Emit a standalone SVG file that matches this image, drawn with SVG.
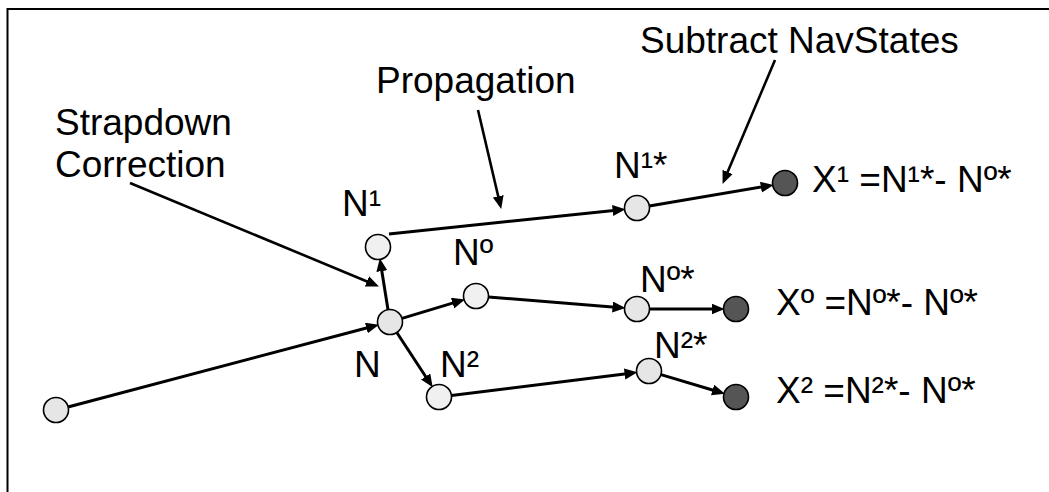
<svg xmlns="http://www.w3.org/2000/svg" width="1049" height="492" viewBox="0 0 1049 492">
<defs>
<style>
.t{font-family:"Liberation Sans",Arial,sans-serif;font-size:37px;fill:#000}
.n{fill:#e6e6e6;stroke:#000;stroke-width:1.6}
.d{fill:#555;stroke:#000;stroke-width:1.6}
.e{stroke:#000;stroke-width:3;fill:none}
.c{stroke:#000;stroke-width:2.6;fill:none}
</style>
<marker id="ah" markerUnits="userSpaceOnUse" markerWidth="14" markerHeight="12" refX="6" refY="5.5" orient="auto" viewBox="0 0 14 12">
<path d="M0,0 L13,5.5 L0,11 z" fill="#000"/>
</marker>
</defs>
<rect width="1049" height="492" fill="#fff"/>
<path d="M7.5,492 V9 H1049" fill="none" stroke="#000" stroke-width="2"/>
<g id="connectors">
<line class="e" x1="68" y1="407" x2="372.2" y2="326.5" marker-end="url(#ah)"/>
<line class="e" x1="388" y1="309.7" x2="380.9" y2="265.2" marker-end="url(#ah)"/>
<line class="e" x1="402" y1="318.4" x2="458.3" y2="301.4" marker-end="url(#ah)"/>
<line class="e" x1="396.8" y1="332.5" x2="428.9" y2="381.5" marker-end="url(#ah)"/>
<line class="e" x1="389" y1="234" x2="618.6" y2="209.9" marker-end="url(#ah)"/>
<line class="e" x1="649.3" y1="205.9" x2="766.8" y2="186.1" marker-end="url(#ah)"/>
<line class="e" x1="488.5" y1="297" x2="618.5" y2="307.5" marker-end="url(#ah)"/>
<line class="e" x1="649.5" y1="309" x2="717.5" y2="309" marker-end="url(#ah)"/>
<line class="e" x1="451.4" y1="395.5" x2="630.6" y2="373.2" marker-end="url(#ah)"/>
<line class="e" x1="661" y1="374.6" x2="718.3" y2="391.7" marker-end="url(#ah)"/>
<line class="c" x1="130" y1="183" x2="372.5" y2="283.7" marker-end="url(#ah)"/>
<line class="c" x1="478" y1="110" x2="499.6" y2="202.2" marker-end="url(#ah)"/>
<line class="c" x1="775" y1="60" x2="725.3" y2="177.5" marker-end="url(#ah)"/>
</g>
<g id="labels">
<text class="t" x="55" y="135">Strapdown</text>
<text class="t" x="55" y="177">Correction</text>
<text class="t" x="376" y="93">Propagation</text>
<text class="t" x="640" y="53">Subtract NavStates</text>
</g>
<g id="node-start"><circle class="n" cx="56" cy="410" r="12.5"/></g>
<g id="node-N"><circle class="n" cx="390" cy="322" r="12.5"/><text class="t" x="354" y="377">N</text></g>
<g id="node-N1"><circle class="n" cx="378" cy="247" r="12.5" style="fill:#f0f0f0"/><text class="t" x="342" y="216">N¹</text></g>
<g id="node-N0"><circle class="n" cx="476" cy="296" r="12.5" style="fill:#f0f0f0"/><text class="t" x="453" y="265">Nº</text></g>
<g id="node-N2"><circle class="n" cx="439" cy="397" r="12.5" style="fill:#f0f0f0"/><text class="t" x="440" y="377">N²</text></g>
<g id="node-N1s"><circle class="n" cx="637" cy="208" r="12.5"/><text class="t" x="614" y="178">N¹*</text></g>
<g id="node-N0s"><circle class="n" cx="637" cy="309" r="12.5"/><text class="t" x="640" y="292">Nº*</text></g>
<g id="node-N2s"><circle class="n" cx="649" cy="371" r="12.5"/><text class="t" x="654" y="358">N²*</text></g>
<g id="node-X1"><circle class="d" cx="785" cy="183" r="12.5"/><text class="t" x="812" y="192">X¹ =N¹*- Nº*</text></g>
<g id="node-X0"><circle class="d" cx="736" cy="309" r="12.5"/><text class="t" x="776" y="315">Xº =Nº*- Nº*</text></g>
<g id="node-X2"><circle class="d" cx="736" cy="397" r="12.5"/><text class="t" x="776" y="403">X² =N²*- Nº*</text></g>
</svg>
